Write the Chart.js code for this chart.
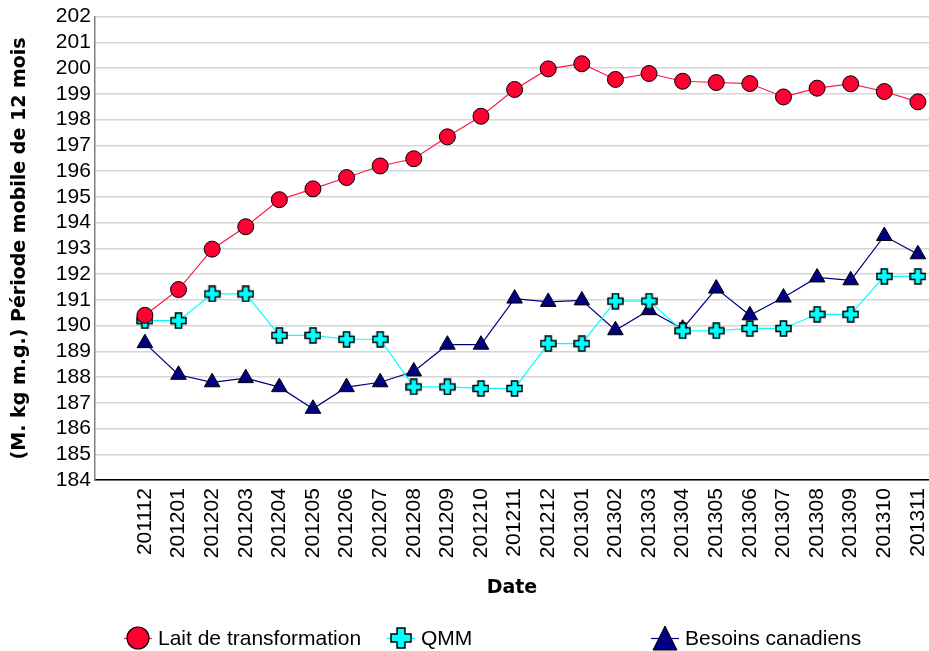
<!DOCTYPE html>
<html>
<head>
<meta charset="utf-8">
<script src="https://cdn.jsdelivr.net/npm/chart.js@4.4.1/dist/chart.umd.min.js"></script>
<style>
  html, body { margin: 0; padding: 0; background: #fff; overflow: hidden; }
  #wrap { position: relative; width: 929px; height: 651px; overflow: hidden; }
  #legend { position: absolute; left: 0; top: 624px; width: 929px; height: 28px;
            font-family: "Liberation Sans", Arial, sans-serif; font-size: 21px; color: #000; }
  .item { position: absolute; top: 0; display: flex; align-items: center; white-space: nowrap; }
  .item canvas { margin-right: 6px; }
</style>
</head>
<body>
<div id="wrap">
  <canvas id="chart" width="939" height="651"></canvas>
  <div id="legend"></div>
</div>
<script>
const months = ["201112", "201201", "201202", "201203", "201204", "201205", "201206", "201207",
                "201208", "201209", "201210", "201211", "201212", "201301", "201302", "201303",
                "201304", "201305", "201306", "201307", "201308", "201309", "201310", "201311"];

const laitTransformation = [190.40, 191.40, 192.97, 193.84, 194.89, 195.31, 195.75, 196.20,
                            196.48, 197.33, 198.13, 199.17, 199.97, 200.17, 199.56, 199.79,
                            199.49, 199.44, 199.40, 198.88, 199.22, 199.39, 199.09, 198.69];

const qmm = [190.19, 190.19, 191.23, 191.23, 189.62, 189.62, 189.47, 189.47,
             187.62, 187.62, 187.56, 187.56, 189.30, 189.30, 190.95, 190.95,
             189.80, 189.80, 189.89, 189.89, 190.44, 190.44, 191.91, 191.91];

const besoinsCanadiens = [189.32, 188.09, 187.80, 187.96, 187.61, 186.77, 187.61, 187.80,
                          188.22, 189.26, 189.26, 191.05, 190.92, 190.98, 189.82, 190.60,
                          189.88, 191.44, 190.40, 191.09, 191.87, 191.76, 193.48, 192.77];

const yTicks = [184, 185, 186, 187, 188, 189, 190, 191, 192, 193, 194, 195, 196, 197, 198, 199, 200, 201, 202];

// filled plus marker (cyan with black outline)
function makeCross(size) {
    const c = document.createElement("canvas");
    c.width = size; c.height = size;
    const g = c.getContext("2d");
    const a = size * 0.32, b = size - a, e = 1, f = size - 1;
    g.beginPath();
    g.moveTo(a, e); g.lineTo(b, e); g.lineTo(b, a); g.lineTo(f, a); g.lineTo(f, b);
    g.lineTo(b, b); g.lineTo(b, f); g.lineTo(a, f); g.lineTo(a, b); g.lineTo(e, b);
    g.lineTo(e, a); g.lineTo(a, a); g.closePath();
    g.fillStyle = "#00ffff"; g.fill();
    g.lineWidth = 1.5; g.strokeStyle = "#000"; g.stroke();
    return c;
}

function toPoints(arr) {
    return arr.map(function (v, i) { return { x: i, y: v }; });
}

const ctx = document.getElementById("chart");
const chart = new Chart(ctx, {
    type: "line",
    data: {
        datasets: [
            {
                label: "Lait de transformation",
                data: toPoints(laitTransformation),
                borderColor: "#ff1a4a",
                borderWidth: 1.2,
                pointStyle: "circle",
                pointRadius: 8,
                pointBackgroundColor: "#ff0033",
                pointBorderColor: "#000",
                pointBorderWidth: 1
            },
            {
                label: "QMM",
                data: toPoints(qmm),
                borderColor: "#00ffff",
                borderWidth: 1.2,
                pointStyle: makeCross(17),
                pointRadius: 8,
                pointBackgroundColor: "#00ffff",
                pointBorderColor: "#000"
            },
            {
                label: "Besoins canadiens",
                data: toPoints(besoinsCanadiens),
                borderColor: "#000080",
                borderWidth: 1.2,
                pointStyle: "triangle",
                pointRadius: 9,
                pointBackgroundColor: "#000080",
                pointBorderColor: "#000",
                pointBorderWidth: 1
            }
        ]
    },
    options: {
        responsive: false,
        animation: false,
        layout: { padding: { left: 9, right: 0, top: 12, bottom: 52 } },
        plugins: {
            legend: { display: false },
            tooltip: { enabled: false }
        },
        scales: {
            x: {
                type: "linear",
                min: -1.49,
                max: 23.33,
                afterBuildTicks: function (axis) {
                    axis.ticks = months.map(function (m, i) { return { value: i }; });
                },
                afterFit: function (axis) {
                    axis.paddingRight = 0;
                },
                ticks: {
                    autoSkip: false,
                    minRotation: 90,
                    maxRotation: 90,
                    padding: 8,
                    color: "#000",
                    font: { family: "Liberation Sans", size: 21 },
                    callback: function (value) { return months[value]; }
                },
                grid: { display: false, drawTicks: false },
                border: { color: "#000", width: 1.5 },
                title: {
                    display: true,
                    text: "Date",
                    color: "#000",
                    padding: { top: 10, bottom: 0 },
                    font: { family: "DejaVu Sans", size: 19, weight: "bold" }
                }
            },
            y: {
                min: 184,
                max: 202,
                afterBuildTicks: function (axis) {
                    axis.ticks = yTicks.map(function (v) { return { value: v }; });
                },
                ticks: {
                    autoSkip: false,
                    padding: 4,
                    color: "#000",
                    font: { family: "Liberation Sans", size: 21 }
                },
                grid: { color: "#d6d6d6", lineWidth: 1.5, drawTicks: false },
                border: { color: "#808080", width: 1.5 },
                title: {
                    display: true,
                    text: "(M. kg m.g.) Période mobile de 12 mois",
                    color: "#000",
                    padding: { top: 0, bottom: 20 },
                    font: { family: "DejaVu Sans", size: 19, weight: "bold" }
                }
            }
        }
    }
});

// legend built from the datasets, placed like the original
const legendPos = [124, 387, 651];
const legend = document.getElementById("legend");
chart.data.datasets.forEach(function (ds, i) {
    const item = document.createElement("div");
    item.className = "item";
    item.style.left = legendPos[i] + "px";
    const m = document.createElement("canvas");
    m.width = 28; m.height = 28;
    const g = m.getContext("2d");
    g.strokeStyle = ds.borderColor; g.lineWidth = 1.2;
    g.beginPath(); g.moveTo(0, 14.5); g.lineTo(28, 14.5); g.stroke();
    if (i === 0) {
        g.beginPath(); g.arc(14, 14, 11, 0, Math.PI * 2);
        g.fillStyle = "#ff0033"; g.fill(); g.strokeStyle = "#000"; g.lineWidth = 1.2; g.stroke();
    } else if (i === 1) {
        g.drawImage(makeCross(22), 3, 3);
    } else {
        g.beginPath(); g.moveTo(14, 2); g.lineTo(26, 26); g.lineTo(2, 26); g.closePath();
        g.fillStyle = "#000080"; g.fill(); g.strokeStyle = "#000"; g.lineWidth = 1; g.stroke();
    }
    item.appendChild(m);
    const t = document.createElement("span");
    t.textContent = ds.label;
    item.appendChild(t);
    legend.appendChild(item);
});
</script>
</body>
</html>
